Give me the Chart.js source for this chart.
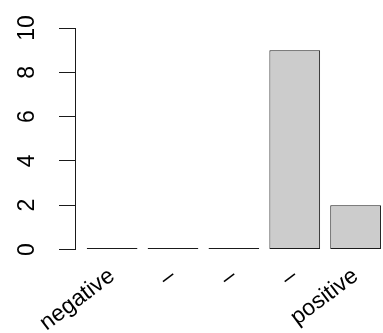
<!DOCTYPE html>
<html>
<head>
<meta charset="utf-8">
<script src="https://cdn.jsdelivr.net/npm/chart.js@4"></script>
<style>
  html, body { margin: 0; padding: 0; background: #fff; overflow: hidden; }
  #wrap { width: 383px; height: 333px; }
</style>
</head>
<body>
<div id="wrap"><canvas id="chart" width="383" height="333"></canvas></div>
<script>
// --- Data ---
const categories = ['negative', '\u2013', '\u2013', '\u2013', 'positive'];
const counts = [0, 0, 0, 9, 2];
const yTicks = [0, 2, 4, 6, 8, 10];

// R barplot layout: width 1, space 0.2
const barCenter = i => 0.7 + 1.2 * i;

const points = categories.map((c, i) => ({ x: barCenter(i), y: counts[i] }));

const font = { family: '"Liberation Sans", Arial, sans-serif', size: 23 };
const lineColor = '#1a1a1a';

new Chart(document.getElementById('chart').getContext('2d'), {
    type: 'bar',
    data: {
        datasets: [{
            data: points,
            // zero-height bars show only as their outline
            backgroundColor: ctx => counts[ctx.dataIndex] === 0 ? lineColor : '#cccccc',
            borderColor: lineColor,
            borderWidth: 1,
            borderSkipped: false,
            inflateAmount: 0,
            minBarLength: 1.5,
            categoryPercentage: 1,
            barPercentage: 1 / 1.2
        }]
    },
    options: {
        responsive: false,
        animation: false,
        devicePixelRatio: 1,
        layout: { padding: { top: 28, left: 0, right: 0, bottom: 0 } },
        plugins: { legend: { display: false }, tooltip: { enabled: false } },
        scales: {
            x: {
                type: 'linear',
                offset: false,
                min: -0.032,
                max: 6.04,
                grid: { display: false, drawTicks: false },
                border: { display: false },
                afterBuildTicks: scale => {
                    scale.ticks = categories.map((c, i) => ({ value: barCenter(i) }));
                },
                afterFit: scale => {
                    scale.height = 83.5;
                    scale.paddingLeft = 0;
                    scale.paddingRight = 0;
                },
                ticks: {
                    autoSkip: false,
                    minRotation: 37,
                    maxRotation: 37,
                    padding: 13,
                    color: '#000',
                    font: font,
                    callback: (v, i) => categories[i]
                }
            },
            y: {
                min: 0,
                max: 10,
                grid: { drawOnChartArea: false, tickLength: 16, color: lineColor, lineWidth: 1 },
                border: { display: true, color: lineColor, width: 1 },
                afterBuildTicks: scale => {
                    scale.ticks = yTicks.map(v => ({ value: v }));
                },
                afterFit: scale => {
                    scale.width = 75;
                    scale.paddingTop = 0;
                    scale.paddingBottom = 0;
                },
                ticks: {
                    minRotation: 90,
                    maxRotation: 90,
                    crossAlign: 'center',
                    padding: 19,
                    color: '#000',
                    font: font
                }
            }
        }
    }
});
</script>
</body>
</html>
